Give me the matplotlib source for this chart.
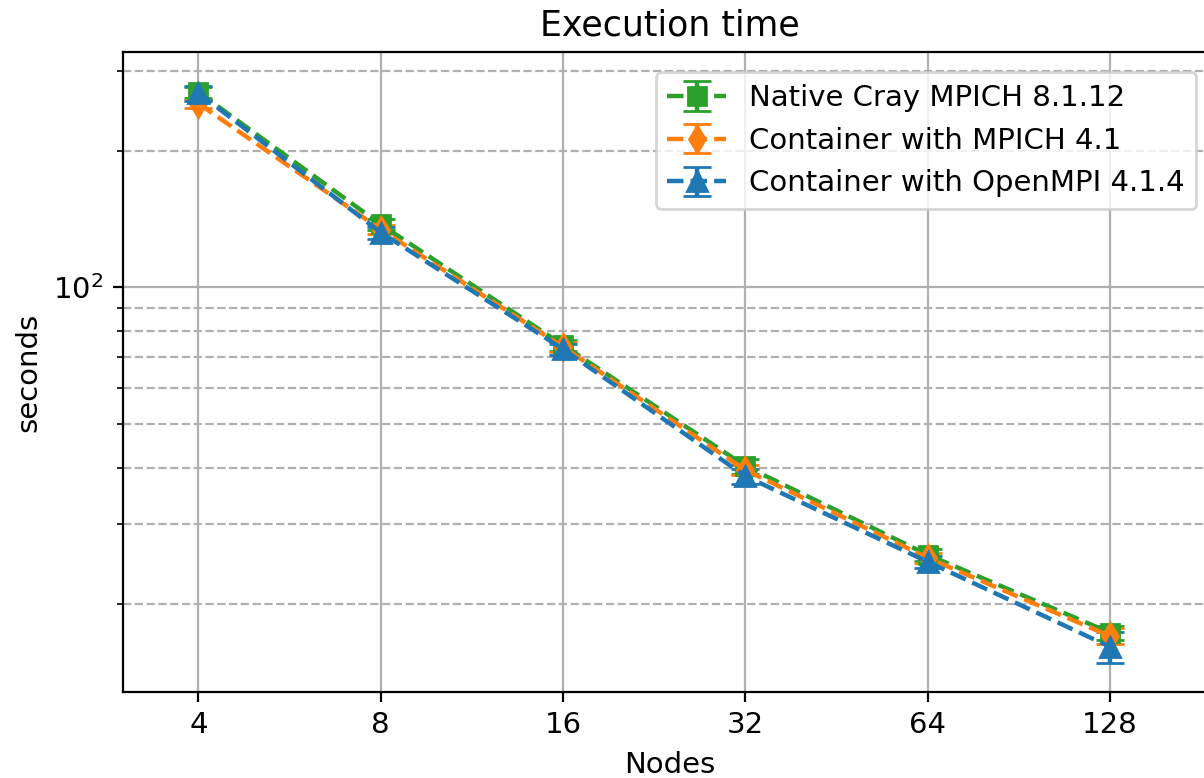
import matplotlib
matplotlib.use("Agg")
import matplotlib.pyplot as plt
from matplotlib.ticker import NullFormatter, NullLocator, FixedLocator, FixedFormatter

# data
nodes = [4, 8, 16, 32, 64, 128]

native_mean = [269, 137.5, 74.5, 40.3, 25.7, 17.3]
native_err = [8, 4, 2, 1.5, 0.8, 0.6]

mpich_mean = [254, 134, 73.8, 39.5, 25.3, 17.0]
mpich_err = [5, 3, 2, 1.0, 0.6, 0.7]

ompi_mean = [268, 132, 73.0, 38.3, 24.8, 16.1]
ompi_err = [10, 4, 2, 1.5, 0.8, 1.3]

labels = ["Native Cray MPICH 8.1.12", "Container with MPICH 4.1",
          "Container with OpenMPI 4.1.4"]

plt.rcParams["font.size"] = 10.5

fig = plt.figure(figsize=(6.02, 3.89), dpi=200)
ax = fig.add_axes([0.102, 0.1105, 0.9086, 0.8226])

ax.errorbar(nodes, native_mean, yerr=native_err, fmt="s--", color="#2ca02c",
            capsize=5, markersize=6.5, lw=1.6, label=labels[0])
ax.errorbar(nodes, mpich_mean, yerr=mpich_err, fmt="d--", color="#ff7f0e",
            capsize=5, markersize=6.5, lw=1.6, label=labels[1])
ax.errorbar(nodes, ompi_mean, yerr=ompi_err, fmt="^--", color="#1f77b4",
            capsize=5, markersize=7.5, lw=1.6, label=labels[2])

ax.set_xscale("log", base=2)
ax.set_yscale("log")
ax.set_xlim(3.0, 192)
ax.set_ylim(12.8, 330)

ax.xaxis.set_major_locator(FixedLocator(nodes))
ax.xaxis.set_major_formatter(FixedFormatter([str(n) for n in nodes]))
ax.xaxis.set_minor_locator(NullLocator())
ax.yaxis.set_minor_formatter(NullFormatter())

ax.grid(True, which="major")
ax.grid(True, which="minor", axis="y", linestyle="--")

ax.set_title("Execution time", fontsize=12.5)
ax.set_xlabel("Nodes")
ax.set_ylabel("seconds")
ax.legend(loc="upper right", fontsize=10.5, borderaxespad=0.7)

fig.savefig("out.png", dpi=200)
